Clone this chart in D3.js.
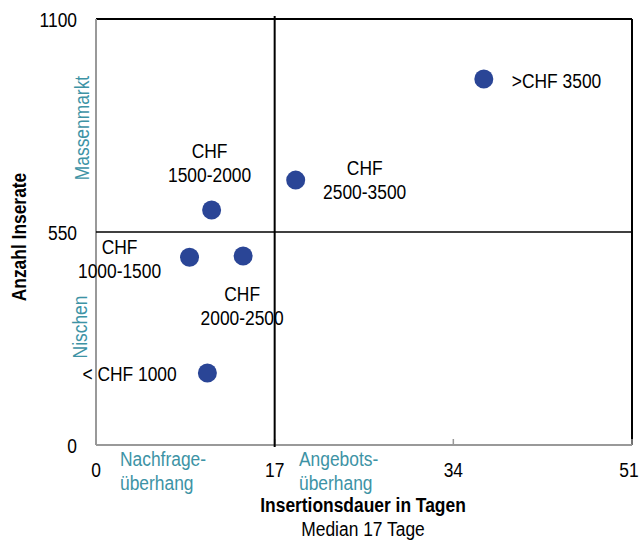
<!DOCTYPE html>
<html><head><meta charset="utf-8">
<script src="https://cdn.jsdelivr.net/npm/d3@7"></script>
<style>
body{margin:0;background:#fff;}
text{font-family:"Liberation Sans",Arial,sans-serif;}
</style></head>
<body><svg id="c" width="640" height="540"></svg>
<script>
const labels = [">CHF 3500", "CHF 2500-3500", "CHF 1500-2000", "CHF 1000-1500", "CHF 2000-2500", "< CHF 1000"];
const days = [36.9, 19.0, 11.0, 8.9, 14.0, 10.6];
const counts = [945, 684, 607, 485, 488, 186];
const xTicks = [0, 17, 34, 51];
const yTicks = [0, 550, 1100];
const medianDays = 17;
const medianCount = 550;

const svg = d3.select("#c");
const L = 96, R = 632, T = 19, B = 445;
const x = d3.scaleLinear().domain([0, 51]).range([L, R]);
const y = d3.scaleLinear().domain([0, 1100]).range([B, T]);
const teal = "#3d93a5", dot = "#2a4596", fs = 20, SX = 0.87;

// condensed text helper
function txt(xp, yp, lines, o = {}) {
  const g = svg.append("g").attr("transform", `translate(${xp},${yp})` + (o.rot ? ` rotate(${o.rot})` : "") + ` scale(${SX},1)`);
  const t = g.append("text").attr("font-size", fs).attr("fill", o.color || "#000")
    .attr("text-anchor", o.anchor || "start").attr("font-weight", o.bold ? "bold" : "normal");
  lines.forEach((s, k) => t.append("tspan").attr("x", 0).attr("y", k * 24).text(s));
  return g;
}

// frame: top & right black
svg.append("line").attr("x1", x(0)).attr("x2", x(51)).attr("y1", y(1100)).attr("y2", y(1100)).attr("stroke", "#000").attr("stroke-width", 2);
svg.append("line").attr("x1", x(51)).attr("x2", x(51)).attr("y1", y(1100)).attr("y2", y(0)).attr("stroke", "#000").attr("stroke-width", 2);
// axes gray
svg.append("line").attr("x1", x(0)).attr("x2", x(0)).attr("y1", y(1100)).attr("y2", y(0)).attr("stroke", "#999").attr("stroke-width", 2);
svg.append("line").attr("x1", x(0)).attr("x2", x(51)).attr("y1", y(0)).attr("y2", y(0)).attr("stroke", "#999").attr("stroke-width", 2);
xTicks.forEach(t => svg.append("line").attr("x1", x(t)).attr("x2", x(t)).attr("y1", y(0)).attr("y2", y(0) - 6).attr("stroke", "#999").attr("stroke-width", 1.5));
// median lines
svg.append("line").attr("x1", x(medianDays)).attr("x2", x(medianDays)).attr("y1", y(1100) - 3).attr("y2", y(0) + 2).attr("stroke", "#000").attr("stroke-width", 2);
svg.append("line").attr("x1", x(0)).attr("x2", x(51)).attr("y1", y(medianCount)).attr("y2", y(medianCount)).attr("stroke", "#000").attr("stroke-width", 1.5);

// tick labels
yTicks.forEach(d => txt(77, y(d) + 8, [String(d)], {anchor: "end"}));
xTicks.forEach(d => txt(Math.min(x(d), 629), 477, [String(d)], {anchor: "middle"}));

// points
svg.selectAll("circle").data(days).enter().append("circle")
  .attr("cx", d => x(d)).attr("cy", (d, i) => y(counts[i])).attr("r", 9.5).attr("fill", dot);

// point labels
const lab = [
  {i: 0, lines: [labels[0]], dx: 28, dy: 9, anchor: "start"},
  {i: 1, lines: ["CHF", "2500-3500"], dx: 69, dy: -5, anchor: "middle"},
  {i: 2, lines: ["CHF", "1500-2000"], dx: -2, dy: -52, anchor: "middle"},
  {i: 3, lines: ["CHF", "1000-1500"], dx: -70, dy: -3, anchor: "middle"},
  {i: 4, lines: ["CHF", "2000-2500"], dx: -1, dy: 45, anchor: "middle"},
  {i: 5, lines: [labels[5]], dx: -125, dy: 8, anchor: "start"}
];
lab.forEach(o => txt(x(days[o.i]) + o.dx, y(counts[o.i]) + o.dy, o.lines, {anchor: o.anchor}));

// quadrant labels
txt(120, 466, ["Nachfrage-", "überhang"], {color: teal});
txt(299, 466, ["Angebots-", "überhang"], {color: teal});
txt(89, 128, ["Massenmarkt"], {rot: -90, anchor: "middle", color: teal});
txt(87, 327, ["Nischen"], {rot: -90, anchor: "middle", color: teal});

// axis titles
txt(363, 512, ["Insertionsdauer in Tagen"], {anchor: "middle", bold: true});
txt(363, 536, ["Median 17 Tage"], {anchor: "middle"});
txt(26, 237, ["Anzahl Inserate"], {rot: -90, anchor: "middle", bold: true});
</script></body></html>
